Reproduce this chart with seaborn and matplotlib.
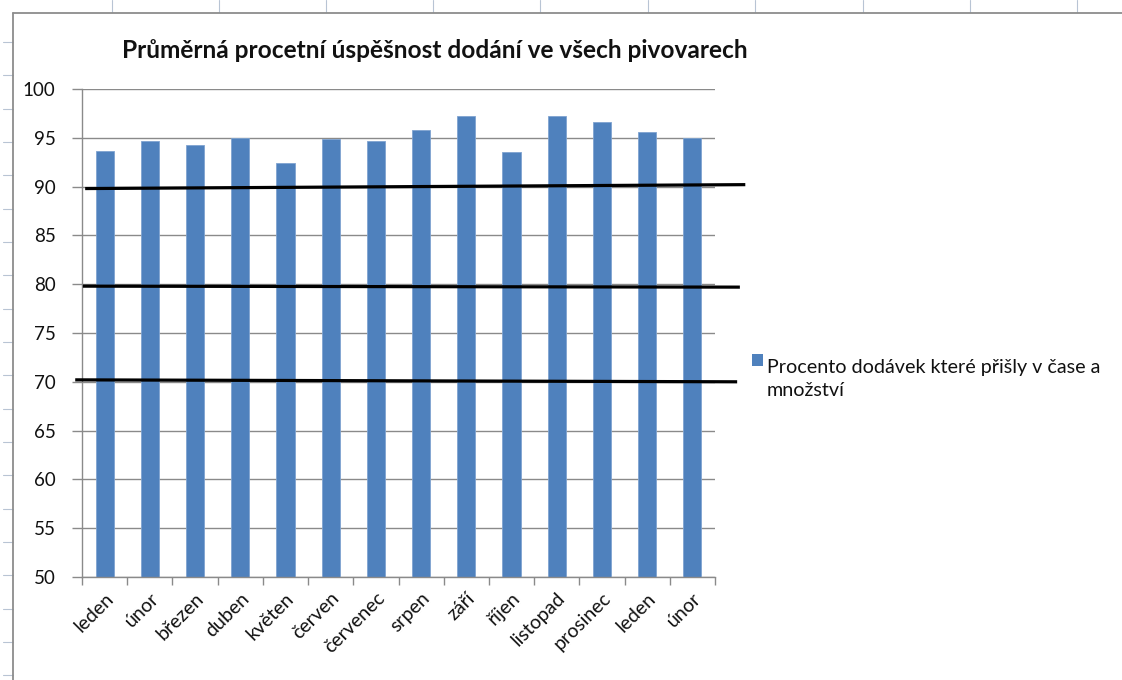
import numpy as np
import matplotlib
matplotlib.use("Agg")
import matplotlib.pyplot as plt
from matplotlib.lines import Line2D
from matplotlib.patches import Rectangle
import seaborn as sns

# Monthly average on-time delivery rate across all breweries
months = ["leden", "únor", "březen", "duben", "květen", "červen", "červenec",
          "srpen", "září", "říjen", "listopad", "prosinec", "leden", "únor"]
rates = [93.6, 94.7, 94.3, 95.0, 92.4, 94.9, 94.7,
         95.8, 97.2, 93.5, 97.2, 96.6, 95.6, 95.0]
series_name = "Procento dodávek které přišly v čase a\nmnožství"
title = "Průměrná procetní úspěšnost dodání ve všech pivovarech"
y_ticks = list(range(50, 101, 5))

# Hand-drawn threshold lines (level at left end, level at right end, x extent)
ref_left = [89.8, 79.8, 70.2]
ref_right = [90.2, 79.7, 70.0]
ref_x0 = [-0.43, -0.48, -0.65]
ref_x1 = [14.17, 14.05, 13.99]

sns.set_theme(style="white")
plt.rcParams["font.family"] = ["Lato", "DejaVu Sans"]

W, H = 1122, 680
fig = plt.figure(figsize=(W / 100, H / 100), dpi=100)
fig.patch.set_facecolor("white")

# Spreadsheet frame behind the chart
grid_col = "#b8c4d4"
for x in [111.7, 219, 326, 433, 540, 648, 755, 863, 970, 1077]:
    fig.add_artist(Line2D([x / W, x / W], [1, 1 - 12 / H], color=grid_col, lw=0.8))
for k in range(20):
    y = 42 + 33.33 * k
    if y > H:
        break
    fig.add_artist(Line2D([3 / W, 13 / W], [1 - y / H, 1 - y / H], color=grid_col, lw=0.8))
fig.add_artist(Line2D([13 / W, 1], [1 - 12.5 / H, 1 - 12.5 / H], color="#8c8c8c", lw=1.3))
fig.add_artist(Line2D([13 / W, 13 / W], [0, 1 - 12.5 / H], color="#8c8c8c", lw=1.3))

ax = fig.add_axes([82 / W, 1 - 577 / H, (715 - 82) / W, (577 - 89) / H])
ax.set_facecolor("white")

sns.barplot(x=np.arange(len(months)), y=rates, ax=ax, color="#4F81BD",
            saturation=1, width=0.4, edgecolor="#7fa3d0", linewidth=0.6)

ax.set_ylim(50, 100)
ax.set_xlim(-0.5, len(months) - 0.5)
ax.set_yticks(y_ticks)
ax.set_yticklabels([str(t) for t in y_ticks], fontsize=13.5, color="#111111")
ax.yaxis.grid(True, color="#8a8a8a", lw=1.0)
ax.set_axisbelow(True)

ax.set_xticks(np.arange(len(months)))
ax.set_xticklabels(months, rotation=45, ha="right", va="top",
                   rotation_mode="anchor", fontsize=14, color="#111111")
ax.set_xticks(np.arange(-0.5, len(months)), minor=True)
ax.tick_params(axis="x", which="major", length=0, pad=9)
ax.tick_params(axis="x", which="minor", length=6, width=1, color="#8a8a8a",
               direction="out", bottom=True)
ax.tick_params(axis="y", length=7, width=1, color="#8a8a8a", direction="out",
               left=True, pad=12)

for s in ["top", "right"]:
    ax.spines[s].set_visible(False)
for s in ["left", "bottom"]:
    ax.spines[s].set_color("#8a8a8a")
    ax.spines[s].set_linewidth(1.0)
ax.set_xlabel("")
ax.set_ylabel("")

# Threshold lines drawn over the bars
for yl, yr, x0, x1 in zip(ref_left, ref_right, ref_x0, ref_x1):
    ax.plot([x0, x1], [yl, yr], color="black", lw=2.3, clip_on=False,
            solid_capstyle="butt", zorder=5)

fig.text(122 / W, 1 - 50 / H, title, fontsize=17.6, fontweight="bold",
         ha="left", va="center", color="#111111")

# Legend
fig.add_artist(Rectangle((752 / W, 1 - 366 / H), 11 / W, 12 / H,
                         transform=fig.transFigure, facecolor="#4F81BD",
                         edgecolor="none"))
fig.text(767 / W, 1 - 359 / H, series_name, fontsize=14.2, ha="left",
         va="top", color="#111111", linespacing=1.45,
         transform=fig.transFigure)

fig.savefig("out.png", dpi=100, facecolor="white")
